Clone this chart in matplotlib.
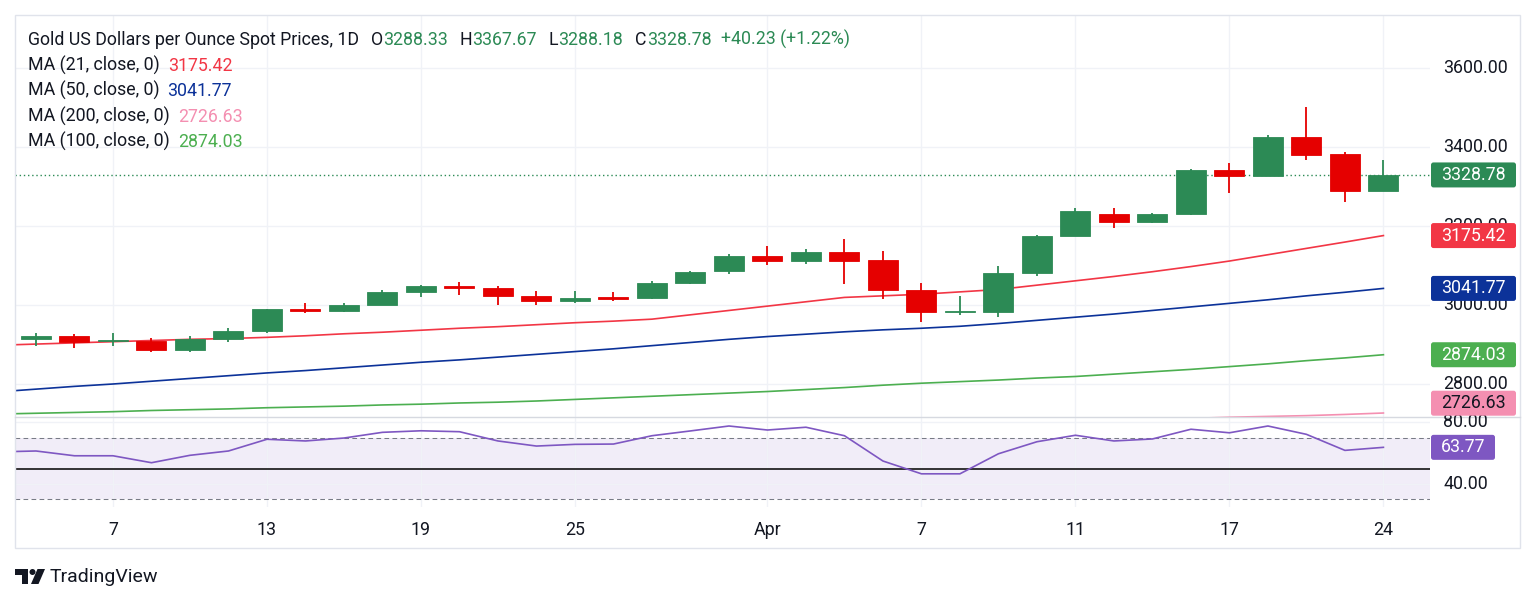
import numpy as np
import pandas as pd
import matplotlib
matplotlib.use("Agg")
import matplotlib.pyplot as plt
from matplotlib.patches import Rectangle, FancyBboxPatch, Polygon, Circle
from matplotlib.lines import Line2D
from matplotlib.transforms import blended_transform_factory

# ---- data ----
dates = pd.bdate_range("2025-03-04", "2025-04-24").drop(pd.Timestamp("2025-04-18"))

opens = [2893, 2915, 2921, 2909, 2910, 2886, 2914, 2933, 2990, 2984, 3001, 3033, 3048, 3043,
         3022, 3010, 3019, 3017, 3056, 3085, 3123, 3112, 3134, 3113, 3037, 2982, 2982, 3081,
         3175, 3229, 3210, 3229, 3341, 3327, 3424, 3381, 3288.33]
highs = [2928, 2928, 2927, 2930, 2917, 2922, 2941, 2990, 3004, 3004, 3038, 3051, 3058, 3048,
         3034, 3036, 3032, 3060, 3087, 3128, 3148, 3142, 3167, 3136, 3055, 3022, 3098, 3177,
         3245, 3245, 3233, 3343, 3360, 3430, 3500, 3386, 3367.67]
lows = [2880, 2895, 2890, 2896, 2880, 2880, 2905, 2930, 2979, 2982, 2999, 3021, 3026, 2999,
        3001, 3006, 3011, 3015, 3054, 3077, 3100, 3104, 3054, 3015, 2957, 2975, 2970, 3073,
        3174, 3195, 3208, 3228, 3284, 3326, 3366, 3260, 3288.18]
closes = [2918, 2922, 2905, 2910, 2885, 2914, 2934, 2989, 2984, 3001, 3033, 3048, 3042, 3022,
          3010, 3018, 3016, 3056, 3084, 3123, 3112, 3134, 3112, 3037, 2982, 2983, 3081, 3174,
          3237, 3210, 3229, 3341, 3327, 3424, 3380, 3288.55, 3328.78]

ma21 = [2898, 2901, 2904, 2907, 2910, 2913, 2915, 2918, 2922, 2927, 2931, 2936, 2941, 2945,
        2950, 2955, 2959, 2964, 2975, 2986, 2997, 3008, 3019, 3023, 3027, 3033, 3039, 3050,
        3061, 3072, 3084, 3097, 3111, 3127, 3143, 3159, 3175.42]
ma50 = [2780, 2787, 2794, 2800, 2807, 2814, 2821, 2828, 2834, 2841, 2848, 2855, 2861, 2868,
        2875, 2882, 2889, 2897, 2905, 2913, 2920, 2926, 2932, 2937, 2941, 2946, 2953, 2961,
        2969, 2977, 2986, 2995, 3004, 3013, 3023, 3032, 3041.77]
ma100 = [2724, 2726, 2728, 2730, 2733, 2735, 2737, 2740, 2742, 2744, 2747, 2749, 2752, 2754,
         2757, 2761, 2765, 2769, 2773, 2777, 2781, 2786, 2791, 2797, 2802, 2806, 2810, 2815,
         2819, 2825, 2831, 2837, 2844, 2851, 2859, 2866, 2874.03]
ma200 = [2627, 2630, 2633, 2636, 2639, 2642, 2645, 2648, 2651, 2654, 2657, 2660, 2663, 2666,
         2668, 2671, 2674, 2677, 2679, 2682, 2684, 2687, 2690, 2692, 2695, 2697, 2700, 2702,
         2705, 2708, 2710, 2713, 2716, 2718, 2720, 2723, 2726.63]
rsi = [60.8, 61.4, 58.3, 58.3, 53.8, 58.6, 61.4, 69.0, 67.9, 69.8, 73.5, 74.5, 73.9, 67.9,
       64.6, 65.7, 65.9, 71.3, 74.4, 77.6, 75.0, 76.8, 71.3, 54.9, 46.6, 46.6, 59.6, 67.4,
       71.6, 67.9, 69.2, 75.5, 73.2, 77.6, 72.2, 61.8, 63.77]

tick_dates = ["2025-03-07", "2025-03-13", "2025-03-19", "2025-03-25", "2025-04-01",
              "2025-04-07", "2025-04-11", "2025-04-17", "2025-04-24"]
tick_labels = ["7", "13", "19", "25", "Apr", "7", "11", "17", "24"]
price_ticks = [2800, 3000, 3200, 3400, 3600]
rsi_ticks = [40, 80]

# ---- style ----
UP = "#2C8A55"
DOWN = "#E50000"
TXT = "#131722"
GRID = "#F0F2F7"
FRAME = "#E0E3EB"
C21, C50, C100, C200 = "#F23645", "#0C3299", "#4CAF50", "#F48FB1"
CRSI = "#7E57C2"
FS = 12.8

plt.rcParams['font.family'] = ['Roboto', 'DejaVu Sans']

W, H = 1536, 602
fig = plt.figure(figsize=(W / 100, H / 100), dpi=100)
L, R, T, SEP, B = 15, 1430, 15, 416.7, 507
ax = fig.add_axes([L / W, 1 - SEP / H, (R - L) / W, (SEP - T) / H])
rax = fig.add_axes([L / W, 1 - B / H, (R - L) / W, (B - SEP) / H], sharex=ax)

x = np.arange(len(dates))
o, h, l, c = map(np.array, (opens, highs, lows, closes))
up = c >= o
cols = np.where(up, UP, DOWN)

# candles
ax.vlines(x, l, h, colors=cols, lw=1.3, zorder=3)
body_lo = np.minimum(o, c)
body_h = np.maximum(np.abs(c - o), 3)
ax.bar(x, body_h, bottom=body_lo, width=0.78, color=cols, edgecolor=cols, lw=0.6, zorder=4)

# moving averages
ax.plot(x, ma200, color=C200, lw=1.2, zorder=2)
ax.plot(x, ma100, color=C100, lw=1.2, zorder=2)
ax.plot(x, ma50, color=C50, lw=1.2, zorder=2)
ax.plot(x, ma21, color=C21, lw=1.2, zorder=2)
ax.axhline(closes[-1], color=UP, lw=1, ls=(0, (1, 2)), zorder=1)

YMIN, YMAX = 2717.3, 3733.3
RMIN, RMAX = 25.09, 83.63
ax.set_ylim(YMIN, YMAX)
ax.set_xlim(0.455, 37.21)
rax.set_ylim(RMIN, RMAX)

tick_idx = [dates.get_loc(pd.Timestamp(d)) for d in tick_dates]
for a, yt in ((ax, price_ticks), (rax, rsi_ticks)):
    a.set_yticks(yt)
    a.set_xticks(tick_idx)
    a.grid(True, color=GRID, lw=1)
    a.set_axisbelow(True)
    a.tick_params(length=0, labelleft=False, labelbottom=False)
    for s in a.spines.values():
        s.set_visible(False)

# rsi panel
rax.axhspan(30, 70, color=CRSI, alpha=0.1, lw=0, zorder=0)
rax.axhline(70, color="#787B86", lw=0.75, ls=(0, (4.5, 3.2)))
rax.axhline(30, color="#787B86", lw=0.75, ls=(0, (4.5, 3.2)))
rax.axhline(50, color="black", lw=1.1)
rax.plot(x, rsi, color=CRSI, lw=1.2, zorder=3)

# x tick labels
tr = blended_transform_factory(rax.transData, rax.transAxes)
for i, s in zip(tick_idx, tick_labels):
    rax.text(i, -(530 - B) / (B - SEP), s, transform=tr, ha="center", va="center",
             fontsize=FS, color=TXT)


def py_price(v):
    return T + (YMAX - v) / (YMAX - YMIN) * (SEP - T)


def py_rsi(v):
    return SEP + (RMAX - v) / (RMAX - RMIN) * (B - SEP)


inch = fig.dpi_scale_trans


def fig_text(xp, yp, s, **kw):
    fig.text(xp / W, 1 - yp / H, s, **kw)


# right axis labels
for v in price_ticks:
    fig_text(1443, py_price(v), f"{v:.2f}", fontsize=FS, color=TXT, va="center", zorder=3)
for v in rsi_ticks:
    fig_text(1443, py_rsi(v), f"{v:.2f}", fontsize=FS, color=TXT, va="center", zorder=3)


def tag(yp, s, fc, tc="white", w=85):
    box = FancyBboxPatch((1431 / 100, (H - yp - 12.5) / 100), w / 100, 25 / 100,
                         boxstyle="round,pad=0,rounding_size=0.025", fc=fc, ec="none",
                         transform=inch, zorder=5)
    fig.add_artist(box)
    fig_text(1431 + w / 2, yp, s, fontsize=FS, color=tc, ha="center", va="center", zorder=6)


tag(py_price(closes[-1]), f"{closes[-1]:.2f}", UP)
tag(py_price(ma21[-1]), f"{ma21[-1]:.2f}", C21)
tag(py_price(ma50[-1]), f"{ma50[-1]:.2f}", C50)
tag(py_price(ma100[-1]), f"{ma100[-1]:.2f}", C100)
tag(min(py_price(ma200[-1]), SEP - 13.5), f"{ma200[-1]:.2f}", C200, tc=TXT)
tag(py_rsi(rsi[-1]), f"{rsi[-1]:.2f}", CRSI, w=64)


# legend rows
def chain(parts, xp, yp):
    s, col = parts[0][:2]
    prev = ax.annotate(s, xy=(xp, H - yp), xycoords="figure pixels", fontsize=FS,
                       color=col, va="center", ha="left", annotation_clip=False)
    for s, col, gap in parts[1:]:
        prev = ax.annotate(s, xy=(1, 0), xycoords=prev, xytext=(gap, 0),
                           textcoords="offset pixels", fontsize=FS, color=col,
                           va="bottom", ha="left", annotation_clip=False)


chain([("Gold US Dollars per Ounce Spot Prices, 1D", TXT),
       ("O", TXT, 12), (f"{opens[-1]:.2f}", UP, 0),
       ("H", TXT, 12), (f"{highs[-1]:.2f}", UP, 0),
       ("L", TXT, 12), (f"{lows[-1]:.2f}", UP, 0),
       ("C", TXT, 12), (f"{closes[-1]:.2f}", UP, 0),
       (f"+{closes[-1] - closes[-2]:.2f} (+{(closes[-1] / closes[-2] - 1) * 100:.2f}%)", UP, 10)],
      28, 40)
chain([("MA (21, close, 0)", TXT), (f"{ma21[-1]:.2f}", C21, 8)], 28, 65)
chain([("MA (50, close, 0)", TXT), (f"{ma50[-1]:.2f}", C50, 8)], 28, 90)
chain([("MA (200, close, 0)", TXT), (f"{ma200[-1]:.2f}", C200, 8)], 28, 116)
chain([("MA (100, close, 0)", TXT), (f"{ma100[-1]:.2f}", C100, 8)], 28, 141)
chain([("RSI (14)", TXT), (f"{rsi[-1]:.2f}", CRSI, 8)], 28, 441)

# frame and pane separator
fig.add_artist(Rectangle((L / 100, (H - 548) / 100), (1520 - L) / 100, (548 - T) / 100,
                         fill=False, ec=FRAME, lw=1, transform=inch))
fig.add_artist(Line2D([L / 100, 1520 / 100], [(H - SEP) / 100] * 2, color="#D6D9E0",
                      lw=1, transform=inch))


# TradingView mark
def pts(p):
    return [(a / 100, (H - b) / 100) for a, b in p]


fig.add_artist(Polygon(pts([(15, 569), (28, 569), (28, 584), (22, 584), (22, 575), (15, 575)]),
                       closed=True, fc=TXT, ec="none", transform=inch))
fig.add_artist(Circle((32.5 / 100, (H - 572) / 100), 3 / 100, fc=TXT, ec="none", transform=inch))
fig.add_artist(Polygon(pts([(37.5, 569), (45, 569), (38.5, 584), (31, 584)]), closed=True,
                       fc=TXT, ec="none", transform=inch))
fig_text(50, 577, "TradingView", fontsize=14, color=TXT, va="center", ha="left")

fig.savefig("out.png", dpi=100, facecolor="white")
